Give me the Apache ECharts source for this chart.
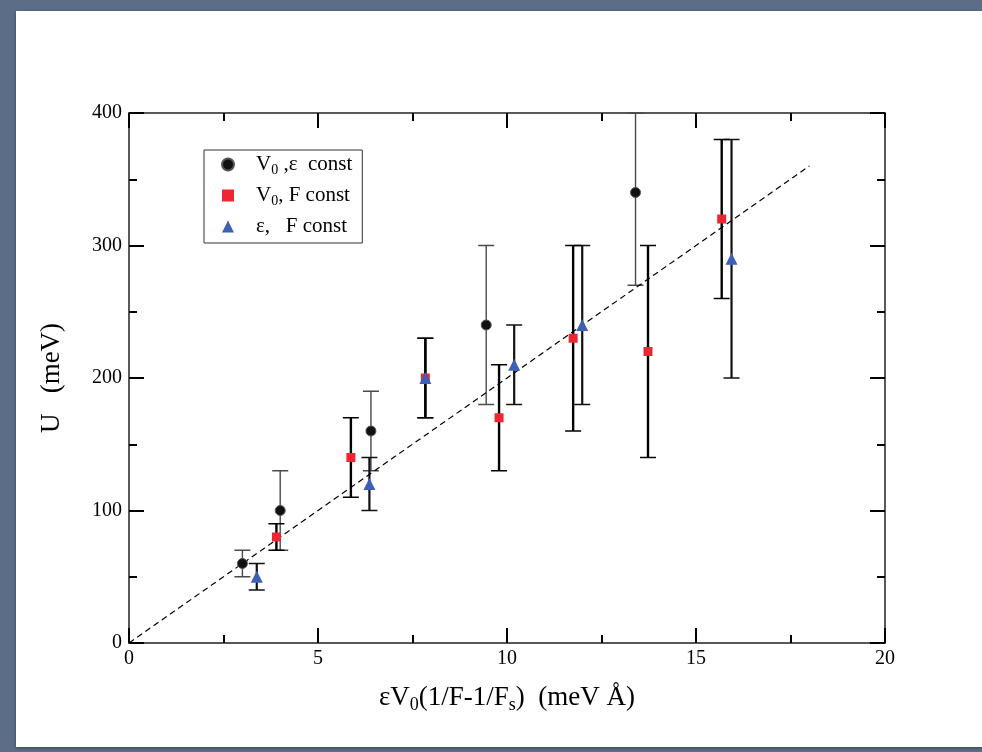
<!DOCTYPE html>
<html>
<head>
<meta charset="utf-8">
<title>U vs eV0</title>
<script src="https://cdn.jsdelivr.net/npm/echarts@6/dist/echarts.min.js"></script>
<style>
  html, body { margin: 0; padding: 0; width: 982px; height: 752px; overflow: hidden; background: #5b6d87; }
  #panel { position: absolute; left: 16px; top: 11px; width: 966px; height: 736px; background: #fff; box-shadow: 0 1px 3px rgba(0,0,0,0.4); }
  #chart { position: absolute; left: 0; top: 0; width: 982px; height: 752px; }
</style>
</head>
<body>
<div id="panel"></div>
<div id="chart"></div>
<script>
// V0, eps const (black circles)
var circleX  = [3.0, 4.0, 6.4, 9.45, 13.4];
var circleY  = [60, 100, 160, 240, 340];
var circleLo = [50, 70, 130, 180, 270];
var circleHi = [70, 130, 190, 300, 400];
// V0, F const (red squares)
var squareX  = [3.9, 5.87, 7.84, 9.79, 11.75, 13.73, 15.68];
var squareY  = [80, 140, 200, 170, 230, 220, 320];
var squareLo = [70, 110, 170, 130, 160, 140, 260];
var squareHi = [90, 170, 230, 210, 300, 300, 380];
// eps, F const (blue triangles)
var triX  = [3.38, 6.36, 7.84, 10.19, 11.99, 15.94];
var triY  = [50, 120, 200, 210, 240, 290];
var triLo = [40, 100, 170, 180, 180, 200];
var triHi = [60, 140, 230, 240, 300, 380];
// fit line
var fitX = [0, 18];
var fitY = [0, 360];

var FONT = "'Liberation Serif', 'DejaVu Serif', serif";

function pts(xs, ys) {
  var out = [];
  for (var i = 0; i < xs.length; i++) out.push([xs[i], ys[i]]);
  return out;
}
function bars(xs, lo, hi) {
  var out = [];
  for (var i = 0; i < xs.length; i++) out.push([xs[i], lo[i], hi[i]]);
  return out;
}
function errRender(color, width) {
  return function (params, api) {
    var x = api.value(0);
    var p1 = api.coord([x, api.value(1)]);
    var p2 = api.coord([x, api.value(2)]);
    var w = 8;
    var st = { stroke: color, lineWidth: width };
    var cap = { stroke: color, lineWidth: 1.5 };
    return {
      type: 'group',
      children: [
        { type: 'line', shape: { x1: p1[0], y1: p1[1], x2: p2[0], y2: p2[1] }, style: st },
        { type: 'line', shape: { x1: p1[0] - w, y1: p1[1], x2: p1[0] + w, y2: p1[1] }, style: cap },
        { type: 'line', shape: { x1: p2[0] - w, y1: p2[1], x2: p2[0] + w, y2: p2[1] }, style: cap }
      ]
    };
  };
}

var legendText = {
  'c': '{p|}V{sub|0}{n| ,ε  const}',
  's': '{p|}V{sub|0}{n|, F const}',
  't': '{p|}ε,   F const'
};

var chart = echarts.init(document.getElementById('chart'));
var axisLine = { show: true, onZero: false, lineStyle: { color: '#222', width: 1.5 } };
var tick = { show: true, inside: true, length: 15, lineStyle: { color: '#000', width: 2 } };
var minor = { show: true, splitNumber: 2, length: 8, lineStyle: { color: '#000', width: 2 } };

var option = {
  animation: false,
  backgroundColor: 'transparent',
  grid: { left: 129, top: 113, right: 97, bottom: 109 },
  legend: {
    left: 204, top: 150,
    orient: 'vertical',
    padding: [4, 10, 6, 17],
    itemGap: 8,
    itemWidth: 12, itemHeight: 12,
    borderColor: '#333', borderWidth: 1,
    data: [
      { name: 'c', icon: 'circle' },
      { name: 's', icon: 'rect' },
      { name: 't', icon: 'triangle' }
    ],
    formatter: function (name) { return legendText[name]; },
    textStyle: {
      fontFamily: FONT, fontSize: 21, color: '#000',
      rich: {
        p: { width: 17 },
        sub: { fontFamily: FONT, fontSize: 14, padding: [11, 0, 0, 0] },
        n: { fontFamily: FONT, fontSize: 21 }
      }
    }
  },
  xAxis: [{
    type: 'value', min: 0, max: 20, interval: 5,
    axisLine: axisLine, axisTick: tick, minorTick: minor, splitLine: { show: false },
    axisLabel: { fontFamily: FONT, fontSize: 20, color: '#000', margin: 6 },
    name: '{n|εV}{sub|0}{n|(1/F-1/F}{sub|s}{n|)  (meV Å)}',
    nameLocation: 'middle', nameGap: 38,
    nameTextStyle: {
      fontFamily: FONT, fontSize: 27, color: '#000',
      rich: {
        n: { fontFamily: FONT, fontSize: 27, color: '#000' },
        sub: { fontFamily: FONT, fontSize: 18, color: '#000', padding: [15, 0, 0, 0] }
      }
    }
  }, {
    type: 'value', min: 0, max: 20, interval: 5, position: 'top',
    axisLine: axisLine, axisTick: tick, minorTick: minor, splitLine: { show: false },
    axisLabel: { show: false }
  }],
  yAxis: [{
    type: 'value', min: 0, max: 400, interval: 100,
    axisLine: axisLine, axisTick: tick, minorTick: minor, splitLine: { show: false },
    axisLabel: { fontFamily: FONT, fontSize: 20, color: '#000', margin: 7 },
    name: 'U   (meV)', nameLocation: 'middle', nameRotate: 90, nameGap: 64,
    nameTextStyle: { fontFamily: FONT, fontSize: 27, color: '#000' }
  }, {
    type: 'value', min: 0, max: 400, interval: 100, position: 'right',
    axisLine: axisLine, axisTick: tick, minorTick: minor, splitLine: { show: false },
    axisLabel: { show: false }
  }],
  series: [
    { type: 'custom', name: 'errC', renderItem: errRender('#4a4a4a', 1.4), data: bars(circleX, circleLo, circleHi), encode: { x: 0, y: [1, 2] }, z: 2, silent: true },
    { type: 'custom', name: 'errT', renderItem: errRender('#111', 2.2), data: bars(triX, triLo, triHi), encode: { x: 0, y: [1, 2] }, z: 2, silent: true },
    { type: 'custom', name: 'errS', renderItem: errRender('#000', 2.4), data: bars(squareX, squareLo, squareHi), encode: { x: 0, y: [1, 2] }, z: 2, silent: true },
    { type: 'line', name: 'fit', data: pts(fitX, fitY), symbol: 'none', lineStyle: { color: '#000', width: 1.2, type: [6, 4] }, z: 3, silent: true },
    { type: 'scatter', name: 'c', data: pts(circleX, circleY), symbol: 'circle', symbolSize: 10,
      itemStyle: { color: '#111', borderColor: '#555', borderWidth: 1, opacity: 1 }, z: 5 },
    { type: 'scatter', name: 's', data: pts(squareX, squareY), symbol: 'rect', symbolSize: 9,
      itemStyle: { color: '#ee2631', opacity: 1 }, z: 5 },
    { type: 'scatter', name: 't', data: pts(triX, triY), symbol: 'triangle', symbolSize: 12,
      itemStyle: { color: '#3c60b4', opacity: 1 }, z: 6 }
  ]
};
chart.setOption(option);
</script>
</body>
</html>
